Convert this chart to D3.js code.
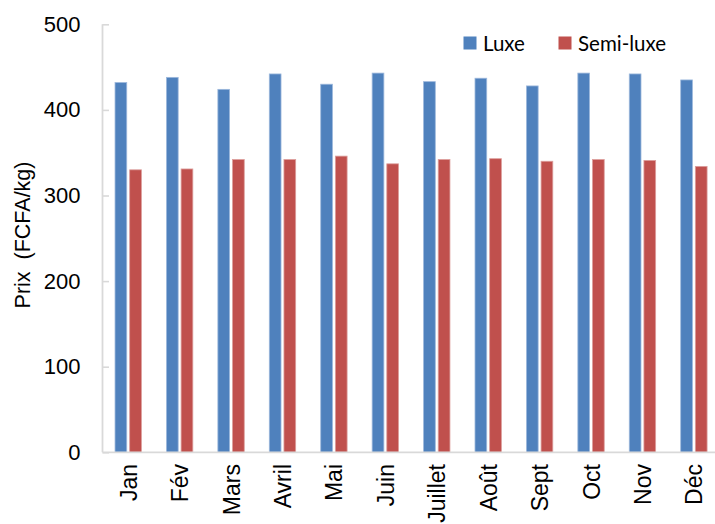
<!DOCTYPE html>
<html>
<head>
<meta charset="utf-8">
<script src="https://cdn.jsdelivr.net/npm/d3@7"></script>
<style>
  html, body { margin: 0; padding: 0; background: #fff; }
  svg { display: block; }
</style>
</head>
<body>
<svg id="chart" width="715" height="524"></svg>
<script>
// Monthly prices (FCFA/kg) for two quality grades
const months = ["Jan", "Fév", "Mars", "Avril", "Mai", "Juin", "Juillet", "Août", "Sept", "Oct", "Nov", "Déc"];
const seriesNames = ["Luxe", "Semi-luxe"];
const luxe = [432, 438, 424, 442, 430, 443, 433, 437, 428, 443, 442, 435];
const semiLuxe = [330, 331, 342, 342, 346, 337, 342, 343, 340, 342, 341, 334];
const yTicks = [0, 100, 200, 300, 400, 500];
const colors = ["#4f81bd", "#c0504d"];
const edgeColors = ["#9db8dc", "#dc9e9c"];

const rows = months.map((m, i) => ({ month: m, values: [luxe[i], semiLuxe[i]] }));

const svg = d3.select("#chart");
const plotLeft = 102.5, plotRight = 719.6, plotTop = 24.3, plotBottom = 452.3;

const x0 = d3.scaleBand().domain(months).range([plotLeft, plotRight])
  .paddingInner(0.487).paddingOuter(0.2435);
const x1 = d3.scaleBand().domain(seriesNames).range([0, x0.bandwidth()])
  .paddingInner(0.2).paddingOuter(0);
const y = d3.scaleLinear().domain([0, 500]).range([plotBottom, plotTop]);

// Bars
const groups = svg.append("g").selectAll("g").data(rows).join("g")
  .attr("transform", d => `translate(${x0(d.month)},0)`);
groups.selectAll("rect")
  .data(d => d.values.map((v, k) => ({ key: seriesNames[k], k, v })))
  .join("rect")
  .attr("x", d => x1(d.key))
  .attr("width", x1.bandwidth())
  .attr("y", d => y(d.v))
  .attr("height", d => y(0) - y(d.v))
  .attr("fill", d => colors[d.k])
  .attr("stroke", d => edgeColors[d.k])
  .attr("stroke-width", 0.8);

// Y axis (ticks pointing into the plot)
const yAxis = d3.axisRight(y).tickValues(yTicks).tickSize(6.5).tickFormat("");
const yg = svg.append("g").attr("transform", `translate(${plotLeft},0)`).call(yAxis);
yg.select(".domain").remove();
yg.selectAll(".tick line").attr("stroke", "#d9d9d9").attr("stroke-width", 1.6);
svg.append("line").attr("x1", plotLeft).attr("x2", plotLeft).attr("y1", plotTop).attr("y2", plotBottom)
  .attr("stroke", "#d9d9d9").attr("stroke-width", 1.8);

// Y tick labels
svg.append("g").selectAll("text").data(yTicks).join("text")
  .attr("x", 80.5).attr("y", d => y(d))
  .attr("text-anchor", "end").attr("dominant-baseline", "central")
  .attr("font-family", "Liberation Sans, Arial, sans-serif")
  .attr("font-size", 22).attr("fill", "#000")
  .text(d => d);

// X axis line
svg.append("line").attr("x1", plotLeft).attr("x2", 715).attr("y1", plotBottom).attr("y2", plotBottom)
  .attr("stroke", "#d9d9d9").attr("stroke-width", 1.8);

// Month labels, rotated
svg.append("g").selectAll("text").data(months).join("text")
  .attr("transform", d => `translate(${x0(d) + x0.bandwidth() / 2 + 0.5},464) rotate(-90)`)
  .attr("text-anchor", "end").attr("dominant-baseline", "central")
  .attr("font-family", "Liberation Sans, Arial, sans-serif")
  .attr("font-size", 23).attr("fill", "#000")
  .text(d => d);

// Y axis title
svg.append("text")
  .attr("transform", "translate(23,235) rotate(-90)")
  .attr("text-anchor", "middle").attr("dominant-baseline", "central")
  .attr("font-family", "Liberation Sans, Arial, sans-serif")
  .attr("font-size", 21.5).attr("fill", "#000")
  .attr("xml:space", "preserve")
  .text("Prix  (FCFA/kg)");

// Legend
const legendX = [463.5, 558.5];
const lg = svg.append("g").selectAll("g").data(seriesNames).join("g")
  .attr("transform", (d, i) => `translate(${legendX[i]},36.5)`);
lg.append("rect").attr("width", 13).attr("height", 13).attr("fill", (d, i) => colors[i]);
lg.append("text").attr("x", 19.5).attr("y", 6.8)
  .attr("dominant-baseline", "central")
  .attr("font-family", "Lato, 'Open Sans', sans-serif")
  .attr("font-size", 20.5).attr("fill", "#000")
  .text(d => d);
</script>
</body>
</html>
